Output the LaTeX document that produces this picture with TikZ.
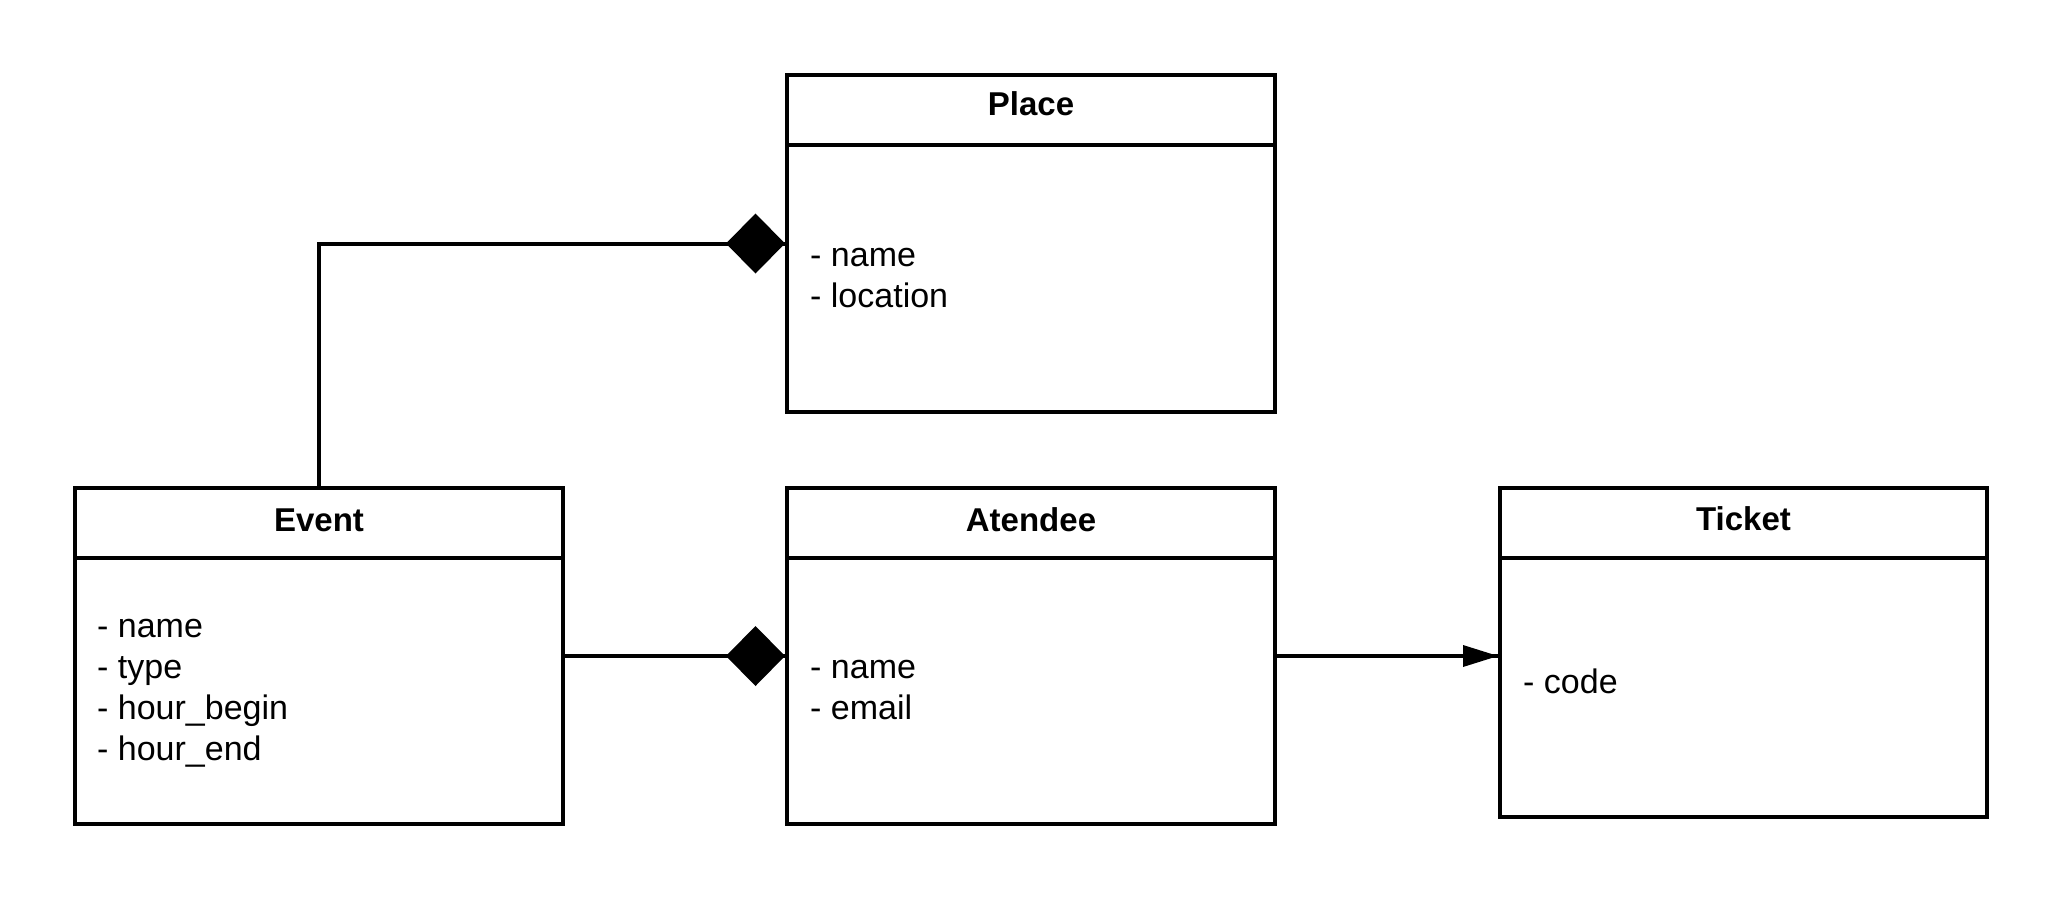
\documentclass[tikz,border=0pt]{standalone}
\usepackage{fontspec}
\setmainfont{Liberation Sans}
\begin{document}
\begin{tikzpicture}[x=1pt,y=-1pt,
  classbox/.style={draw=black, line width=4pt, minimum width=488pt, inner sep=0pt},
  hdrline/.style={draw=black, line width=4pt},
  conn/.style={draw=black, line width=4pt},
  titletext/.style={font=\bfseries\fontsize{33}{38}\selectfont, inner sep=0pt, anchor=base},
  bodytext/.style={font=\fontsize{34}{41}\selectfont, align=left, inner sep=0pt, anchor=base west}]
\useasboundingbox (0,0) rectangle (2063,900);
\fill[white] (0,0) rectangle (2063,900);

% boxes
\node[classbox, minimum height=337pt] (place) at (1031,243.5) {};
\node[classbox, minimum height=336pt] (event) at (319,656) {};
\node[classbox, minimum height=336pt] (atendee) at (1031,656) {};
\node[classbox, minimum width=487pt, minimum height=329pt] (ticket) at (1743.5,652.5) {};

% header separators
\draw[hdrline] ([yshift=-72pt]place.north west) -- ([yshift=-72pt]place.north east);
\draw[hdrline] ([yshift=-72pt]event.north west) -- ([yshift=-72pt]event.north east);
\draw[hdrline] ([yshift=-72pt]atendee.north west) -- ([yshift=-72pt]atendee.north east);
\draw[hdrline] ([yshift=-72pt]ticket.north west) -- ([yshift=-72pt]ticket.north east);

% titles
\node[titletext] (placeT) at (1031,115) {Place};
\node[titletext] (eventT) at (319,531) {Event};
\node[titletext] (atendeeT) at (1031,531) {Atendee};
\node[titletext] (ticketT) at (1743.5,530) {Ticket};

% bodies (anchor = baseline of last line)
\node[bodytext] (placeB) at (810,307) {- name\\- location};
\node[bodytext] (eventB) at (97,760) {- name\\- type\\- hour\_begin\\- hour\_end};
\node[bodytext] (atendeeB) at (810,719) {- name\\- email};
\node[bodytext] (ticketB) at (1523,693) {- code};

% connectors
\draw[conn] (event.north) |- (place.west);
\fill[black] (place.west) -- ++(-29.5,-30) -- ++(-29.5,30) -- ++(29.5,30) -- cycle;

\draw[conn] (event.east) -- (atendee.west);
\fill[black] (atendee.west) -- ++(-29.5,-30) -- ++(-29.5,30) -- ++(29.5,30) -- cycle;

\coordinate (tk) at (ticket.west |- atendee.east);
\draw[conn] (atendee.east) -- (tk);
\fill[black] (tk) -- ++(-35,-11) -- ++(0,22) -- cycle;
\end{tikzpicture}
\end{document}
